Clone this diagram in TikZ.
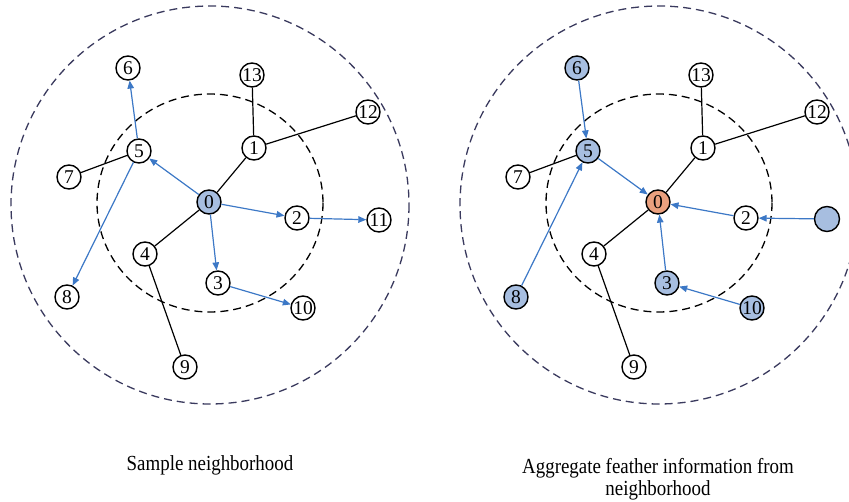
\documentclass[tikz,border=0pt]{standalone}
\usepackage{fontspec}
\setmainfont{Liberation Serif}
\newfontfamily\capfont[FakeStretch=0.88]{Liberation Serif}
\usetikzlibrary{arrows.meta}
\definecolor{nodeblue}{HTML}{A7BEE0}
\definecolor{nodeorange}{HTML}{EAA07E}
\definecolor{edgeblue}{HTML}{3C78C6}
\definecolor{ringnavy}{HTML}{3A3A5E}
\begin{document}
\begin{tikzpicture}[x=1pt,y=-1pt,
 vtx/.style={circle,draw=black,line width=1.4pt,fill=white,minimum size=24pt,inner sep=0pt,font=\fontsize{19.5}{19.5}\selectfont},
 bluev/.style={vtx,fill=nodeblue},
 orangev/.style={vtx,fill=nodeorange},
 plain/.style={draw=black,line width=1.2pt},
 flow/.style={draw=edgeblue,line width=1.2pt,-{Triangle[length=8pt,width=6.5pt]}},
 outerring/.style={draw=ringnavy,line width=1.3pt,dash pattern=on 8pt off 5pt},
 innerring/.style={draw=black,line width=1.3pt,dash pattern=on 8pt off 5pt},
 caption/.style={font=\capfont\fontsize{21.5}{22}\selectfont,align=center}]
\useasboundingbox (0,0) rectangle (849,502);
% ---------- left panel ----------
\draw[outerring] (210,205) circle [radius=199];
\draw[innerring] (210,203) ellipse [x radius=113, y radius=109];
\node[bluev] (a0) at (209,202) {0};
\node[vtx] (a1) at (254,148) {1};
\node[vtx] (a2) at (297,218) {2};
\node[vtx] (a3) at (218,283) {3};
\node[vtx] (a4) at (145,254) {4};
\node[vtx] (a5) at (139,151) {5};
\node[vtx] (a6) at (128,68) {6};
\node[vtx] (a7) at (69,177) {7};
\node[vtx] (a8) at (67,297) {8};
\node[vtx] (a9) at (185,367) {9};
\node[vtx] (a10) at (303,308) {10};
\node[vtx] (a11) at (379,220) {11};
\node[vtx] (a12) at (368,112) {12};
\node[vtx] (a13) at (252,75) {13};
\draw[plain] (a0) -- (a1);
\draw[plain] (a1) -- (a13);
\draw[plain] (a1) -- (a12);
\draw[plain] (a0) -- (a4);
\draw[plain] (a4) -- (a9);
\draw[plain] (a5) -- (a7);
\draw[flow] (a0) -- (a5);
\draw[flow] (a5) -- (a6);
\draw[flow] (a5) -- (a8);
\draw[flow] (a0) -- (a2);
\draw[flow] (a2) -- (a11);
\draw[flow] (a0) -- (a3);
\draw[flow] (a3) -- (a10);
\node[caption,anchor=base] (capa) at (210,471) {Sample neighborhood};
% ---------- right panel ----------
\begin{scope}[xshift=449pt]
\draw[outerring] (210,205) circle [radius=199];
\draw[innerring] (210,203) ellipse [x radius=113, y radius=109];
\node[orangev] (b0) at (209,202) {0};
\node[vtx] (b1) at (254,148) {1};
\node[vtx] (b2) at (297,218) {2};
\node[bluev] (b3) at (218,283) {3};
\node[vtx] (b4) at (145,254) {4};
\node[bluev] (b5) at (139,151) {5};
\node[bluev] (b6) at (128,68) {6};
\node[vtx] (b7) at (69,177) {7};
\node[bluev] (b8) at (67,297) {8};
\node[vtx] (b9) at (185,367) {9};
\node[bluev] (b10) at (303,308) {10};
\node[bluev,minimum size=25pt] (b11) at (378,219) {};
\node[vtx] (b12) at (368,112) {12};
\node[vtx] (b13) at (252,75) {13};
\draw[plain] (b0) -- (b1);
\draw[plain] (b1) -- (b13);
\draw[plain] (b1) -- (b12);
\draw[plain] (b0) -- (b4);
\draw[plain] (b4) -- (b9);
\draw[plain] (b5) -- (b7);
\draw[flow] (b6) -- (b5);
\draw[flow] (b8) -- (b5);
\draw[flow] (b5) -- (b0);
\draw[flow] (b2) -- (b0);
\draw[flow] (b11) -- (b2);
\draw[flow] (b3) -- (b0);
\draw[flow] (b10) -- (b3);
\node[caption,anchor=base] (capb) at (209,496) {Aggregate feather information from\\neighborhood};
\end{scope}
\end{tikzpicture}
\end{document}
